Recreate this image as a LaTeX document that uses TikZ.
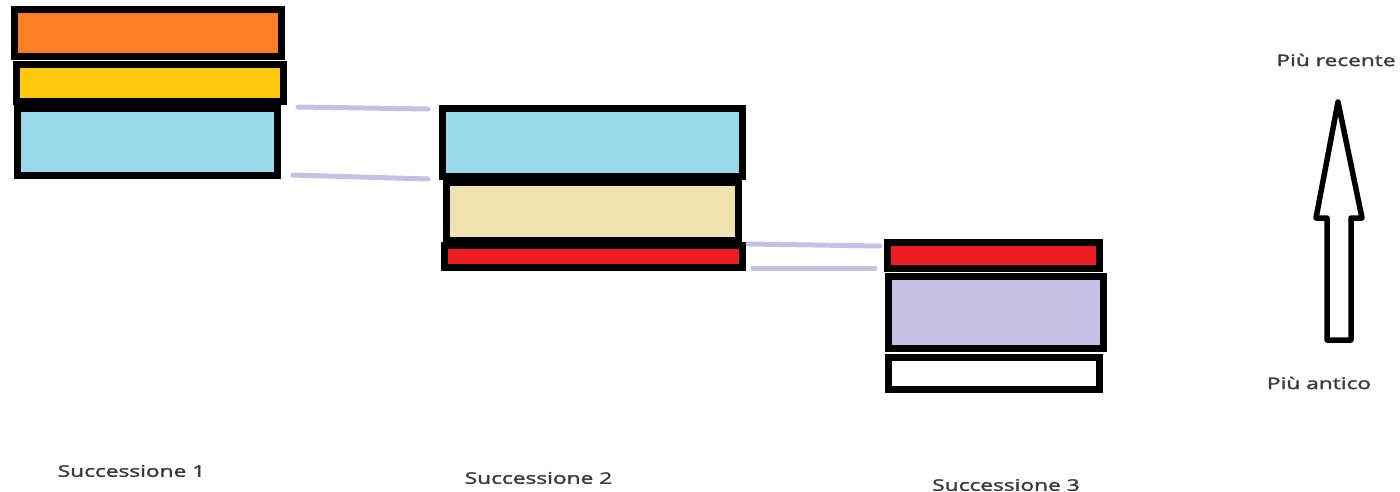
\documentclass[tikz,border=0pt]{standalone}
\usepackage{fontspec}
\setmainfont{Open Sans}
\newfontfamily\labfont{Open Sans}[RawFeature={embolden=1.6}]
\definecolor{pOrange}{HTML}{FF7F27}
\definecolor{pGold}{HTML}{FFC90E}
\definecolor{pBlue}{HTML}{99D9EA}
\definecolor{pBeige}{HTML}{EFE4B0}
\definecolor{pRed}{HTML}{ED1C24}
\definecolor{pLav}{HTML}{C8BFE7}
\definecolor{txtgray}{HTML}{3A3A3A}
\tikzset{
  layer/.style={draw=black, line width=7pt, rectangle, inner sep=0pt},
  link/.style={draw=pLav, line width=5pt, line cap=round},
  lab/.style={font=\labfont\fontsize{16}{18}\selectfont, text=txtgray, inner sep=0pt, xscale=1.42},
  bigarrow/.style={draw=black, line width=5.5pt, line join=round, fill=white}
}
\begin{document}
\begin{tikzpicture}[x=1pt,y=-1pt]
\useasboundingbox (0,0) rectangle (1400,492);
% Successione 1
\node[layer, fill=pOrange, minimum width=267pt, minimum height=47pt] (o1) at (147.5,33.5) {};
\node[layer, fill=pGold, minimum width=267pt, minimum height=37pt] (o2) at (149.5,83.5) {};
\node[layer, fill=pBlue, minimum width=260pt, minimum height=66.5pt] (o3) at (147.5,142.25) {};
% Successione 2
\node[layer, fill=pBlue, minimum width=300pt, minimum height=67pt] (m1) at (592,142.5) {};
\node[layer, fill=pBeige, minimum width=291.5pt, minimum height=58pt] (m2) at (592.25,211) {};
\node[layer, fill=pRed, minimum width=297.5pt, minimum height=22pt] (m3) at (593.25,256) {};
% Successione 3
\node[layer, fill=pRed, minimum width=211.5pt, minimum height=25.5pt] (r1) at (993.25,255.25) {};
\node[layer, fill=pLav, minimum width=214.5pt, minimum height=72.5pt] (r2) at (995.75,312.25) {};
\node[layer, fill=white, minimum width=210.5pt, minimum height=31.5pt] (r3) at (993.75,373.25) {};
% links
\draw[link] ([shift={(17,1.5)}]o3.north east) -- ([shift={(-10.5,3.5)}]m1.north west);
\draw[link] ([shift={(12,-4)}]o3.south east) -- ([shift={(-10.5,-0.5)}]m1.south west);
\draw[link] ([shift={(2.5,2.5)}]m3.north east) -- ([shift={(-4,7)}]r1.north west);
\draw[link] ([shift={(7.5,-2.5)}]m3.south east) -- ([shift={(-9,-3.5)}]r1.south west);
% arrow
\coordinate (tip) at (1338,102);
\draw[bigarrow] (tip) -- (1362,218) -- (1351,218) -- (1351,340) -- (1327,340) -- (1327,218) -- (1316,218) -- cycle;
% labels
\node[lab] (recent) at (1336,60) {Più recente};
\node[lab] (old) at (1319,383) {Più antico};
\node[lab] (s1) at (131.5,471) {Successione 1};
\node[lab] (s2) at (538.5,478) {Successione 2};
\node[lab] (s3) at (1006,485) {Successione 3};
\end{tikzpicture}
\end{document}
